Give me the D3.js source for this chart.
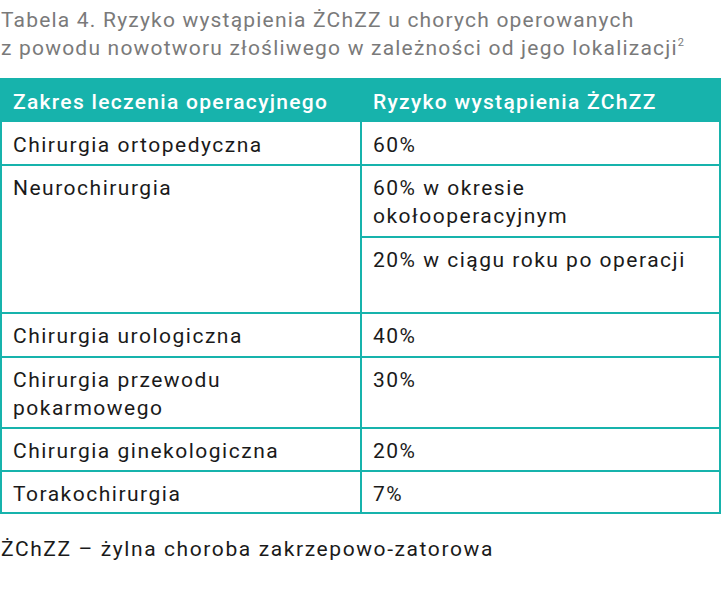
<!DOCTYPE html>
<html><head><meta charset="utf-8">
<script src="https://cdn.jsdelivr.net/npm/d3@7"></script>
<style>body{margin:0;background:#fff}</style></head>
<body><svg id="c" width="721" height="600"></svg>
<script>
const titleLines = ["Tabela 4. Ryzyko wystąpienia ŻChZZ u chorych operowanych", "z powodu nowotworu złośliwego w zależności od jego lokalizacji"];
const headers = ["Zakres leczenia operacyjnego", "Ryzyko wystąpienia ŻChZZ"];
const categories = [["Chirurgia ortopedyczna"], ["Neurochirurgia"], ["Chirurgia urologiczna"], ["Chirurgia przewodu", "pokarmowego"], ["Chirurgia ginekologiczna"], ["Torakochirurgia"]];
const risks = [[["60%"]], [["60% w okresie", "okołooperacyjnym"], ["20% w ciągu roku po operacji"]], [["40%"]], [["30%"]], [["20%"]], [["7%"]]];
const footnote = "ŻChZZ – żylna choroba zakrzepowo-zatorowa";

const rowBounds = [122, 165, 313, 357, 428, 471, 513];
const teal = "#17b3ac", font = "Roboto, sans-serif";
const svg = d3.select("#c");
const x = d3.scaleOrdinal().domain([0,1]).range([13, 373]);

svg.selectAll("text.t").data(titleLines).join("text").attr("x",1).attr("y",27).attr("dy",(d,i)=>i*28)
  .attr("font-family",font).attr("font-size",21).attr("letter-spacing",1.2).attr("fill","#7a7a7a")
  .each(function(d,i){ d3.select(this).text(d); if(i==1) d3.select(this).append("tspan").attr("font-size",11).attr("dy",-9).text("2"); });

svg.append("rect").attr("x",0).attr("y",78).attr("width",721).attr("height",44).attr("fill",teal);
svg.selectAll("text.h").data(headers).join("text").attr("x",(d,i)=>x(i)).attr("y",109)
  .attr("font-family",font).attr("font-weight",500).attr("font-size",21).attr("letter-spacing",1.3).attr("fill","#fff").text(d=>d);

const g = svg.append("g").attr("stroke",teal).attr("stroke-width",2);
rowBounds.slice(1).forEach(y=>g.append("line").attr("x1",0).attr("x2",721).attr("y1",y).attr("y2",y));
g.append("line").attr("x1",1).attr("x2",1).attr("y1",122).attr("y2",513);
g.append("line").attr("x1",720).attr("x2",720).attr("y1",122).attr("y2",513);
g.append("line").attr("x1",361).attr("x2",361).attr("y1",122).attr("y2",513);
g.append("line").attr("x1",361).attr("x2",721).attr("y1",237).attr("y2",237);

const txt = (xx, top, lines) => lines.forEach((l,k)=>svg.append("text").attr("x",xx).attr("y",top+30+k*28)
  .attr("font-family",font).attr("font-size",21).attr("letter-spacing",1.5).attr("fill","#1a1a1a").text(l));
categories.forEach((c,i)=>{
  txt(x(0), rowBounds[i], c);
  let top = rowBounds[i];
  risks[i].forEach((r,j)=>{ txt(x(1), top, r); if(i===1) top = 237; });
});
svg.append("text").attr("x",1).attr("y",556).attr("font-family",font).attr("font-size",21).attr("letter-spacing",1.6).attr("fill","#1a1a1a").text(footnote);
</script></body></html>
